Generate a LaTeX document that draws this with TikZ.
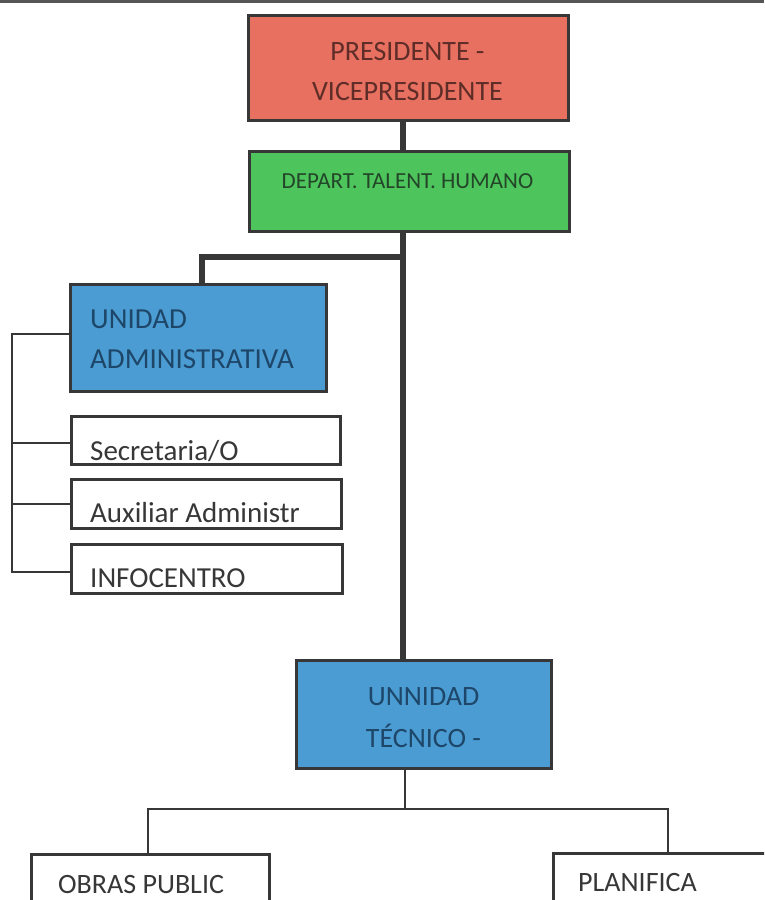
\documentclass[tikz,border=0pt]{standalone}
\usepackage{fontspec}
\setmainfont{Carlito}
\usetikzlibrary{calc}
\definecolor{redbox}{RGB}{232,112,96}
\definecolor{greenbox}{RGB}{78,196,92}
\definecolor{bluebox}{RGB}{74,156,210}
\definecolor{edge}{RGB}{55,55,55}
\definecolor{redtxt}{RGB}{95,45,40}
\definecolor{greentxt}{RGB}{35,70,40}
\definecolor{bluetxt}{RGB}{30,70,105}
\definecolor{graytxt}{RGB}{55,55,55}
\begin{document}
\begin{tikzpicture}[x=1pt,y=-1pt,
  box/.style={draw=edge, line width=2.5pt, rectangle, inner sep=0pt, anchor=north west},
  thickln/.style={draw=edge, line width=6pt},
  thinln/.style={draw=edge, line width=2.2pt},
  txt/.style={inner sep=0pt, font=\fontsize{29}{40}\selectfont}]
\useasboundingbox (0,0) rectangle (764,900);
\fill[white] (0,0) rectangle (764,900);
\clip (0,0) rectangle (764,900);
\draw[line width=3pt, draw=edge!85] (0,1) -- (764,1);

% boxes
\node[box, fill=redbox,   minimum width=320pt, minimum height=105pt] (pres) at (247,14) {};
\node[box, fill=greenbox, minimum width=320pt, minimum height=80pt]  (dep)  at (248,150) {};
\node[box, fill=bluebox,  minimum width=256pt, minimum height=107pt] (adm)  at (69,283) {};
\node[box, fill=white,    minimum width=269pt, minimum height=48pt]  (sec)  at (70,415) {};
\node[box, fill=white,    minimum width=270pt, minimum height=49pt]  (aux)  at (70,478) {};
\node[box, fill=white,    minimum width=271pt, minimum height=49pt]  (inf)  at (70,543) {};
\node[box, fill=bluebox,  minimum width=255pt, minimum height=108pt] (tec)  at (295,659) {};
\node[box, fill=white,    minimum width=238pt, minimum height=80pt]  (obr)  at (30,853) {};
\node[box, fill=white,    minimum width=240pt, minimum height=80pt]  (pla)  at (552,852) {};

% texts
\node[txt, font=\fontsize{28}{40}\selectfont, text=redtxt, align=center, anchor=base] (presT) at (407.5,100) {PRESIDENTE -\\VICEPRESIDENTE};
\node[txt, font=\fontsize{23}{25}\selectfont, text=greentxt, anchor=base] (depT) at (407.5,188) {DEPART. TALENT. HUMANO};
\node[txt, text=bluetxt, align=left, anchor=base west] (admT) at (90,368) {UNIDAD\\ADMINISTRATIVA};
\node[txt, text=graytxt, anchor=base west] (secT) at (90,460) {Secretaria/O};
\node[txt, text=graytxt, anchor=base west] (auxT) at (90,522) {Auxiliar Administr};
\node[txt, text=graytxt, anchor=base west] (infT) at (90,587) {INFOCENTRO};
\node[txt, font=\fontsize{28}{42}\selectfont, text=bluetxt, align=center, anchor=base] (tecT) at (423.5,747) {UNNIDAD\\TÉCNICO -};
\node[txt, font=\fontsize{28}{40}\selectfont, text=graytxt, anchor=base west] (obrT) at (58,893) {OBRAS PUBLIC};
\node[txt, font=\fontsize{28}{40}\selectfont, text=graytxt, anchor=base west] (plaT) at (578,891) {PLANIFICA};

% connectors
\coordinate (spX) at (403,0);
\coordinate (jA) at (403,257);
\coordinate (aX) at (202,0);
\draw[thickln] (pres.south -| spX) -- (dep.north -| spX);
\draw[thickln] (dep.south -| spX) -- (tec.north -| spX);
\draw[thickln] (jA) -| (adm.north -| aX);

\coordinate (bAdm) at (12,334);
\coordinate (bSec) at (12,443);
\coordinate (bAux) at (12,504);
\coordinate (bInf) at (12,572);
\draw[thinln] (adm.west |- bAdm) -- (bAdm) -- (bInf) -- (inf.west |- bInf);
\draw[thinln] (bSec) -- (sec.west |- bSec);
\draw[thinln] (bAux) -- (aux.west |- bAux);

\coordinate (jB) at (405,809);
\coordinate (oX) at (148,0);
\coordinate (pX) at (668,0);
\draw[thinln] (tec.south -| jB) -- (jB);
\draw[thinln] (obr.north -| oX) |- (jB) -| (pla.north -| pX);
\end{tikzpicture}
\end{document}
